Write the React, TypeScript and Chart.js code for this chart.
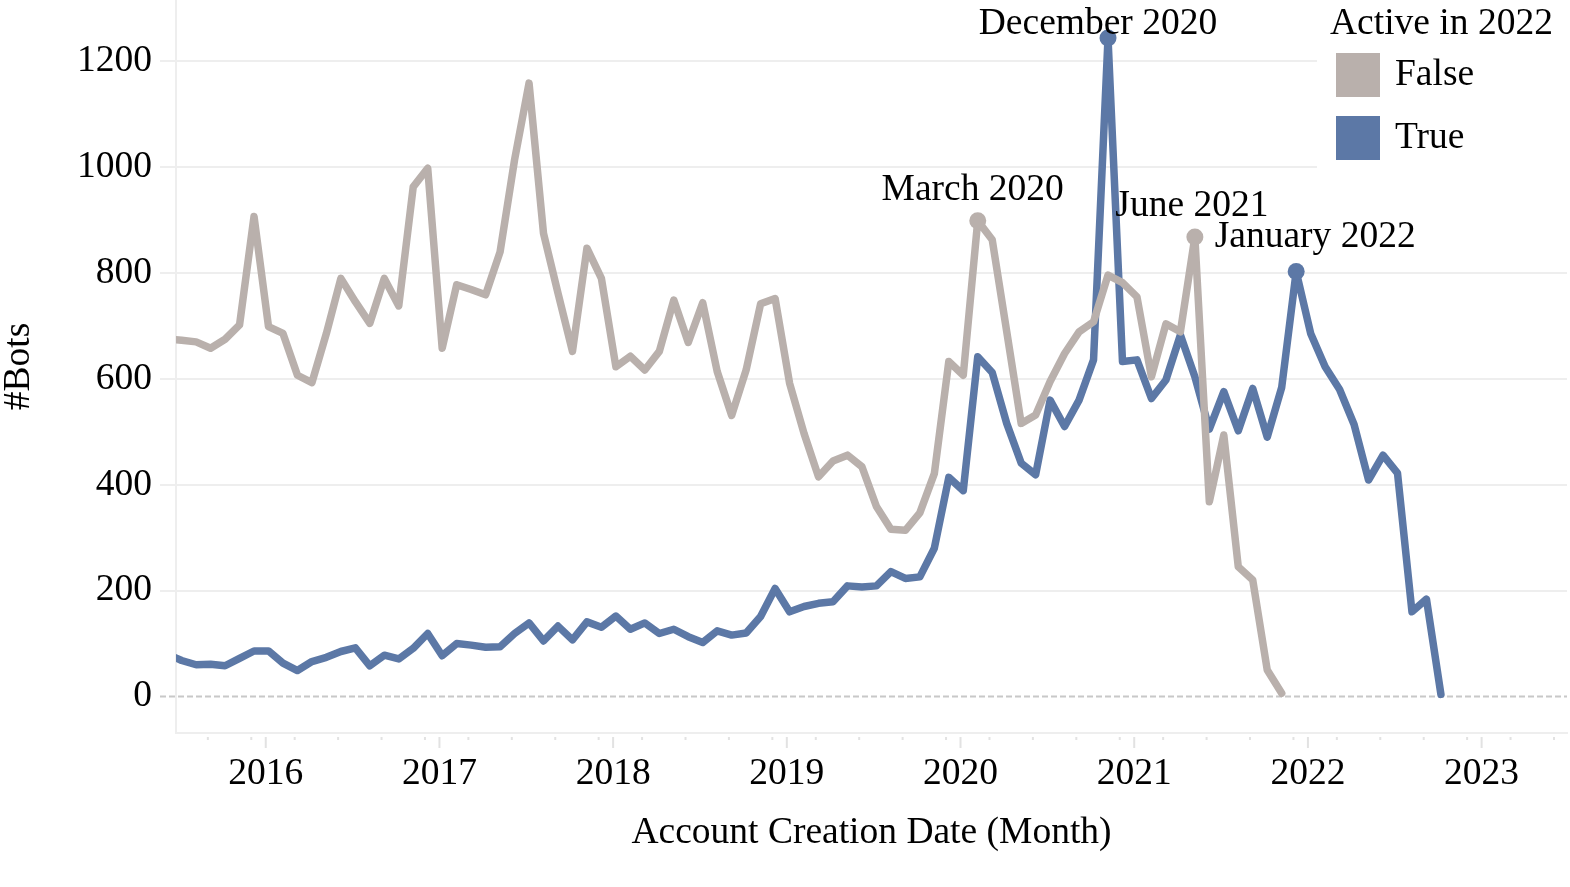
import React, { useEffect, useRef } from 'react';
import Chart from 'chart.js/auto';

// months run from July 2015 to November 2022
const firstMonth = '2015-07';
const monthCount = 89;

// bots that were no longer active in 2022
const falseCounts = [
    676, 673, 670, 658, 675, 702,
    907, 699, 686, 607, 593, 686, 790, 746, 705, 790, 738, 963,
    998, 658, 778, 769, 759, 840, 1014, 1159, 875, 762, 652, 847,
    790, 623, 643, 617, 652, 749, 669, 744, 614, 531, 617, 742,
    752, 592, 497, 415, 445, 456, 434, 359, 316, 314, 347, 421,
    633, 607, 899, 863, 690, 516, 532, 595, 648, 689, 708, 796,
    782, 755, 604, 704, 689, 868, 368, 494, 245, 220, 50, 6,
];

// bots still active in 2022
const trueCounts = [
    80, 68, 60, 61, 58, 72,
    86, 86, 63, 49, 66, 74, 85, 92, 58, 78, 71, 91,
    119, 77, 100, 97, 93, 94, 119, 139, 105, 133, 107, 141,
    131, 152, 127, 139, 119, 127, 113, 102, 124, 116, 120, 151,
    204, 160, 170, 176, 179, 209, 207, 209, 236, 223, 226, 280,
    414, 389, 642, 612, 516, 441, 419, 560, 510, 560, 636, 1244,
    633, 636, 563, 598, 683, 604, 505, 576, 502, 582, 490, 584,
    803, 686, 623, 580, 514, 409, 456, 422, 160, 184, 4,
];

const yearTicks = [2016, 2017, 2018, 2019, 2020, 2021, 2022, 2023];
const yTicks = [0, 200, 400, 600, 800, 1000, 1200];

const highlights = [
    { series: 'True', month: '2020-12', label: 'December 2020' },
    { series: 'False', month: '2020-03', label: 'March 2020' },
    { series: 'False', month: '2021-06', label: 'June 2021' },
    { series: 'True', month: '2022-01', label: 'January 2022' },
];

// where each highlight label sits relative to its point (px)
const labelOffsets: Record<string, [number, number]> = {
    'December 2020': [-10, -14],
    'March 2020': [-5, -31],
    'June 2021': [-3, -31],
    'January 2022': [19, -34],
};

const FONT = '"Liberation Serif", "Times New Roman", serif';
const FONT_SIZE = 37.5;
const GRAY = '#b9b0ac';
const BLUE = '#5c78a6';
const GRID = '#eeeeee';
// points are drawn a little before the first of their month in the original
const POINT_SHIFT = -0.81;

const monthIndex = (m: string) => {
    const [y, mo] = m.split('-').map(Number);
    return (y - 2016) * 12 + (mo - 1);
};

const months: string[] = [];
{
    let [y, mo] = firstMonth.split('-').map(Number);
    for (let i = 0; i < monthCount; i++) {
        months.push(`${y}-${String(mo).padStart(2, '0')}`);
        mo++;
        if (mo > 12) { mo = 1; y++; }
    }
}

const toPoints = (values: number[]) =>
    values.map((v, i) => ({ x: monthIndex(months[i]) + POINT_SHIFT, y: v }));

const decorPlugin = {
    id: 'decor',
    beforeDatasetsDraw(chart: any) {
        const { ctx, chartArea, scales } = chart;
        const x = scales.x;
        const y = scales.y;
        ctx.save();
        // dashed zero line
        const y0 = y.getPixelForValue(0);
        ctx.strokeStyle = '#c8c8c8';
        ctx.lineWidth = 2;
        ctx.setLineDash([6, 3]);
        ctx.beginPath();
        ctx.moveTo(chartArea.left - 16, y0);
        ctx.lineTo(chartArea.right, y0);
        ctx.stroke();
        ctx.setLineDash([]);
        // x tick marks: long on years, short every quarter
        ctx.strokeStyle = '#e2e2e2';
        for (let k = Math.ceil(x.min); k <= x.max; k++) {
            const major = k % 12 === 0;
            const minor = ((k % 3) + 3) % 3 === 2;
            if (!major && !minor) continue;
            const px = x.getPixelForValue(k);
            ctx.beginPath();
            ctx.moveTo(px, chartArea.bottom + 4);
            ctx.lineTo(px, chartArea.bottom + (major ? 15 : 7));
            ctx.stroke();
        }
        ctx.restore();
    },
    afterDatasetsDraw(chart: any) {
        const { ctx } = chart;
        ctx.save();
        ctx.font = `${FONT_SIZE}px ${FONT}`;
        ctx.fillStyle = '#000';
        ctx.textAlign = 'center';
        ctx.textBaseline = 'middle';
        highlights.forEach((h) => {
            const di = chart.data.datasets.findIndex((d: any) => d.label === h.series);
            const idx = months.indexOf(h.month);
            const el = chart.getDatasetMeta(di).data[idx];
            if (!el) return;
            const [dx, dy] = labelOffsets[h.label];
            ctx.fillText(h.label, el.x + dx, el.y + dy);
        });

        // legend
        ctx.fillStyle = '#fff';
        ctx.fillRect(1317, 0, 253, 178);
        ctx.fillStyle = '#000';
        ctx.textAlign = 'left';
        ctx.fillText('Active in 2022', 1330, 24);
        chart.data.datasets.forEach((d: any, i: number) => {
            const top = 53 + i * 63;
            ctx.fillStyle = d.borderColor;
            ctx.fillRect(1336, top, 44, 44);
            ctx.fillStyle = '#000';
            ctx.fillText(d.label, 1395, top + 22);
        });
        ctx.restore();
    },
};

const App: React.FC = () => {
    const canvasRef = useRef<HTMLCanvasElement | null>(null);
    const chartInstanceRef = useRef<Chart | null>(null);

    useEffect(() => {
        document.body.style.margin = '0';
        if (!canvasRef.current) return;
        if (chartInstanceRef.current) chartInstanceRef.current.destroy();

        Chart.defaults.color = '#000';
        Chart.defaults.font.family = FONT;

        const highlightIdx = (series: string) =>
            highlights.filter((h) => h.series === series).map((h) => months.indexOf(h.month));

        const makeSet = (label: string, values: number[], color: string) => {
            const marks = highlightIdx(label);
            return {
                label,
                data: toPoints(values),
                borderColor: color,
                backgroundColor: color,
                borderWidth: 7.5,
                borderJoinStyle: 'round' as const,
                borderCapStyle: 'round' as const,
                tension: 0,
                clip: 0,
                pointRadius: (c: any) => (marks.includes(c.dataIndex) ? 8.5 : 0),
                pointBorderWidth: 0,
                pointBackgroundColor: color,
                pointHoverRadius: 0,
            };
        };

        chartInstanceRef.current = new Chart(canvasRef.current, {
            type: 'line',
            data: {
                datasets: [
                    makeSet('False', falseCounts, GRAY),
                    makeSet('True', trueCounts, BLUE),
                ],
            },
            options: {
                animation: false,
                responsive: true,
                maintainAspectRatio: false,
                devicePixelRatio: 1,
                events: [],
                layout: { padding: { left: 0, right: 3, top: 0, bottom: 0 } },
                plugins: {
                    legend: { display: false },
                    tooltip: { enabled: false },
                },
                scales: {
                    x: {
                        type: 'linear',
                        min: -6.2,
                        max: 89.9,
                        afterBuildTicks: (scale: any) => {
                            scale.ticks = yearTicks.map((yr) => ({ value: (yr - 2016) * 12 }));
                        },
                        afterFit: (scale: any) => {
                            scale.height = 154;
                        },
                        ticks: {
                            autoSkip: false,
                            maxRotation: 0,
                            padding: 19,
                            font: { size: FONT_SIZE, family: FONT },
                            color: '#000',
                            callback: (v: any) => String(2016 + Math.round(Number(v) / 12)),
                        },
                        grid: { display: false, drawTicks: false },
                        border: { display: true, color: GRID, width: 2 },
                        title: {
                            display: true,
                            text: 'Account Creation Date (Month)',
                            font: { size: FONT_SIZE, family: FONT },
                            color: '#000',
                            padding: { top: 0, bottom: 31 },
                        },
                    },
                    y: {
                        type: 'linear',
                        min: -69,
                        max: 1316,
                        afterBuildTicks: (scale: any) => {
                            scale.ticks = yTicks.map((v) => ({ value: v }));
                        },
                        afterFit: (scale: any) => {
                            scale.width = 176;
                            scale.paddingTop = 0;
                            scale.paddingBottom = 0;
                        },
                        ticks: {
                            padding: 8,
                            font: { size: FONT_SIZE, family: FONT },
                            color: '#000',
                            callback: (v: any) => String(v),
                        },
                        grid: {
                            color: (c: any) => (c.tick && c.tick.value === 0 ? 'rgba(0,0,0,0)' : GRID),
                            lineWidth: 2,
                            tickLength: 16,
                            drawTicks: true,
                        },
                        border: { display: true, color: GRID, width: 2 },
                        title: {
                            display: true,
                            text: '#Bots',
                            font: { size: FONT_SIZE, family: FONT, lineHeight: 1 },
                            color: '#000',
                            padding: 0,
                        },
                    },
                },
            },
            plugins: [decorPlugin],
        } as any);

        return () => {
            if (chartInstanceRef.current) {
                chartInstanceRef.current.destroy();
                chartInstanceRef.current = null;
            }
        };
    }, []);

    return (
        <div style={{ position: 'relative', width: 1570, height: 887 }}>
            <canvas ref={canvasRef} />
        </div>
    );
};

export default App;
